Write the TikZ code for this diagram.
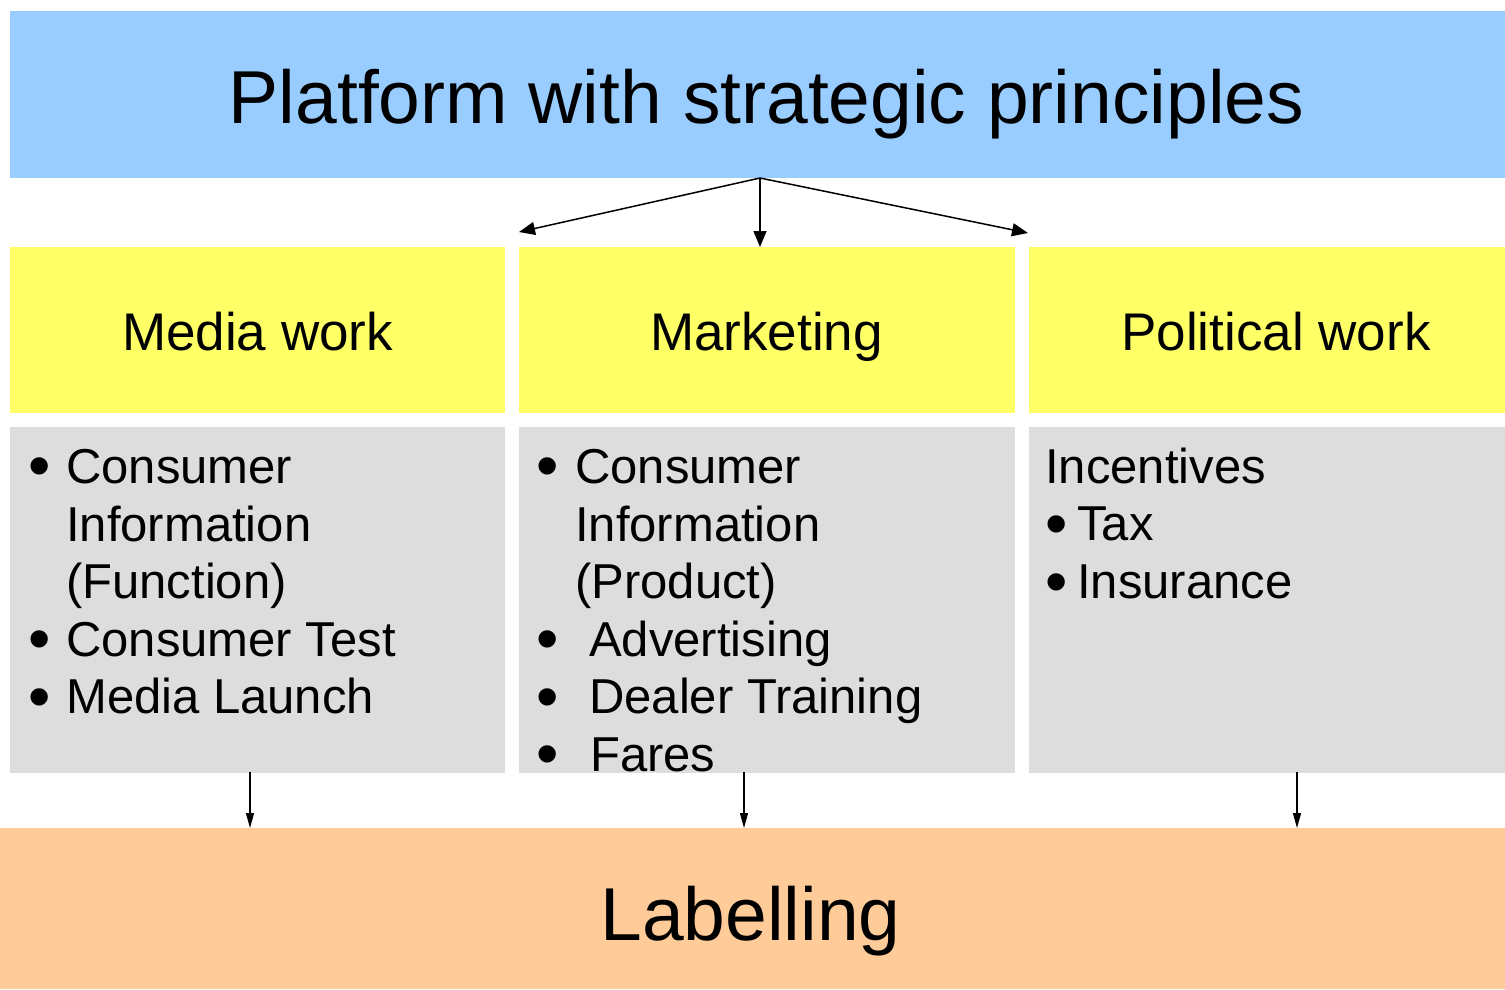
\documentclass[tikz,border=0pt]{standalone}
\usepackage{fontspec}
\setmainfont{Liberation Sans}
\usetikzlibrary{arrows.meta}
\definecolor{cblue}{HTML}{99CCFF}
\definecolor{cyellow}{HTML}{FFFF66}
\definecolor{cgray}{HTML}{DDDDDD}
\definecolor{corange}{HTML}{FFCC99}
\newcommand{\bigbul}{\raisebox{-0.1em}{\scalebox{1.3}{•}}}
\begin{document}
\begin{tikzpicture}[x=1pt,y=-1pt,
  box/.style={inner sep=0pt, outer sep=0pt, draw=none, anchor=north west},
  big/.style={anchor=base, inner sep=0pt, font=\fontsize{75}{80}\selectfont},
  head/.style={anchor=base, inner sep=0pt, font=\fontsize{53}{60}\selectfont},
  txt/.style={anchor=base west, inner sep=0pt, font=\fontsize{49}{57.5}\selectfont},
  arrtop/.style={line width=1.5pt, -{Triangle[length=16pt,width=13pt]}},
  arrbot/.style={line width=1.3pt, -{Triangle[length=15pt,width=8pt]}}]
\useasboundingbox (0,0) rectangle (1505,989);
% boxes
\node[box, fill=cblue, minimum width=1495pt, minimum height=167pt] (title) at (10,11) {};
\node[box, fill=cyellow, minimum width=495pt, minimum height=166pt] (y1) at (10,247) {};
\node[box, fill=cyellow, minimum width=496pt, minimum height=166pt] (y2) at (519,247) {};
\node[box, fill=cyellow, minimum width=476pt, minimum height=166pt] (y3) at (1029,247) {};
\node[box, fill=cgray, minimum width=495pt, minimum height=346pt] (g1) at (10,427) {};
\node[box, fill=cgray, minimum width=496pt, minimum height=346pt] (g2) at (519,427) {};
\node[box, fill=cgray, minimum width=476pt, minimum height=346pt] (g3) at (1029,427) {};
\node[box, fill=corange, minimum width=1505pt, minimum height=161pt] (lab) at (0,828) {};
% main texts
\node[big] (ttitle) at (766.5,123) {Platform with strategic principles};
\node[big] (tlab) at (750.5,940) {Labelling};
\node[head] (ty1) at (257.5,350) {Media work};
\node[head] (ty2) at (766.5,350) {Marketing};
\node[head] (ty3) at (1276,350) {Political work};
% left column
\node[txt] (a1) at (28,483) {\bigbul};
\node[txt] (a2) at (66,483) {Consumer};
\node[txt] (a3) at (66,541) {Information};
\node[txt] (a4) at (66,598.5) {(Function)};
\node[txt] (a5) at (28,656) {\bigbul};
\node[txt] (a6) at (66,656) {Consumer Test};
\node[txt] (a7) at (28,713.5) {\bigbul};
\node[txt] (a8) at (66,713.5) {Media Launch};
% middle column
\node[txt] (b1) at (536,483) {\bigbul};
\node[txt] (b2) at (575,483) {Consumer};
\node[txt] (b3) at (575,541) {Information};
\node[txt] (b4) at (575,598.5) {(Product)};
\node[txt] (b5) at (536,656) {\bigbul};
\node[txt] (b6) at (589,656) {Advertising};
\node[txt] (b7) at (536,713.5) {\bigbul};
\node[txt] (b8) at (589,713.5) {Dealer Training};
\node[txt] (b9) at (536,771) {\bigbul};
\node[txt] (b10) at (590,771) {Fares};
% right column
\node[txt] (c1) at (1045,483) {Incentives};
\node[txt] (c2) at (1045,540.5) {\bigbul};
\node[txt] (c3) at (1077,540.5) {Tax};
\node[txt] (c4) at (1045,598.5) {\bigbul};
\node[txt] (c5) at (1077,598.5) {Insurance};
% connectors
\coordinate (o) at (760,178);
\coordinate (t1) at (519,232);
\coordinate (t3) at (1028,233);
\draw[arrtop] (o) -- (t1);
\draw[arrtop] (o) -- (o |- y2.north);
\draw[arrtop] (o) -- (t3);
\coordinate (s1) at (250,772);
\coordinate (s2) at (744,772);
\coordinate (s3) at (1297,772);
\draw[arrbot] (s1) -- (s1 |- lab.north);
\draw[arrbot] (s2) -- (s2 |- lab.north);
\draw[arrbot] (s3) -- (s3 |- lab.north);
\end{tikzpicture}
\end{document}
